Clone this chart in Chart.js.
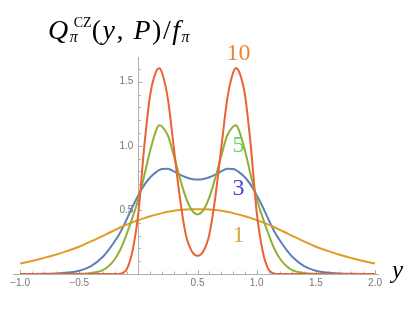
<!DOCTYPE html>
<html>
<head>
<meta charset="utf-8">
<script src="https://cdn.jsdelivr.net/npm/chart.js@4.4.1/dist/chart.umd.min.js"></script>
<style>
  body { margin: 0; background: #fff; }
  #wrap { position: relative; width: 415px; height: 312px; }
  .lbl { position: absolute; line-height: 0; white-space: nowrap; font-family: "Liberation Serif", serif; }
  #ytitle { left: 48px; top: 30px; font-size: 28px; letter-spacing: 1.5px; }
  .scripts { display: inline-block; position: relative; width: 22px; height: 0; letter-spacing: 0; }
  .scripts span { position: absolute; }
  .scripts .sup { left: 4px; bottom: 8.7px; line-height: 14px; font-size: 14px; }
  .scripts .sub { left: 0; bottom: -5.6px; line-height: 16px; font-size: 16px; }
  .sub2 { font-size: 16px; position: relative; top: 3px; letter-spacing: 0; }
  #xtitle { left: 392px; top: 270px; font-size: 25px; font-style: italic; }
  .curveLbl { font-size: 24px; transform: translateX(-50%); left: 238.5px; }
</style>
</head>
<body>
<div id="wrap">
  <canvas id="myChart"></canvas>
  <div id="ytitle" class="lbl"><i>Q</i><span class="scripts"><span class="sup">CZ</span><span class="sub"><i>π</i></span></span>(<i>y</i>, <i>P</i>)/<i>f</i><span class="sub2"><i>π</i></span></div>
  <div id="xtitle" class="lbl">y</div>
  <div class="lbl curveLbl" style="top:52px;color:#ef8430">10</div>
  <div class="lbl curveLbl" style="top:144px;color:#66d060">5</div>
  <div class="lbl curveLbl" style="top:187px;color:#4343d6">3</div>
  <div class="lbl curveLbl" style="top:234px;color:#d8a444">1</div>
</div>
<script>
/* ~~~~~~~~~~ DATA ~~~~~~~~~~*/

// y grid (momentum fraction), same for every curve
const yValues = [-1, -0.9, -0.8, -0.7, -0.6, -0.5, -0.4, -0.3, -0.25, -0.2, -0.15, -0.1, -0.05,
  0, 0.05, 0.1, 0.15, 0.175, 0.2, 0.25, 0.3, 0.35, 0.4, 0.45, 0.5,
  0.55, 0.6, 0.65, 0.7, 0.75, 0.8, 0.825, 0.85, 0.9, 0.95, 1,
  1.05, 1.1, 1.15, 1.2, 1.25, 1.3, 1.4, 1.5, 1.6, 1.7, 1.8, 1.9, 2];

// Q / f_pi for P = 1, 3, 5, 10
const qP1 = [0.082, 0.102, 0.125, 0.15, 0.18, 0.213, 0.255, 0.297, 0.32, 0.343, 0.365, 0.385, 0.403,
  0.42, 0.436, 0.45, 0.463, 0.469, 0.475, 0.485, 0.493, 0.499, 0.503, 0.505, 0.505,
  0.505, 0.503, 0.499, 0.493, 0.485, 0.475, 0.469, 0.463, 0.45, 0.436, 0.42,
  0.403, 0.385, 0.365, 0.343, 0.32, 0.297, 0.255, 0.213, 0.18, 0.15, 0.125, 0.102, 0.082];
const qP3 = [0, 0, 0.001, 0.004, 0.011, 0.026, 0.062, 0.135, 0.19, 0.255, 0.33, 0.425, 0.525,
  0.615, 0.695, 0.755, 0.795, 0.81, 0.82, 0.822, 0.80, 0.775, 0.755, 0.742, 0.737,
  0.742, 0.755, 0.775, 0.80, 0.822, 0.82, 0.81, 0.795, 0.755, 0.695, 0.615,
  0.525, 0.425, 0.33, 0.255, 0.19, 0.135, 0.062, 0.026, 0.011, 0.004, 0.001, 0, 0];
const qP5 = [0, 0, 0, 0, 0, 0.002, 0.008, 0.03, 0.062, 0.115, 0.195, 0.31, 0.44,
  0.585, 0.77, 0.965, 1.12, 1.16, 1.15, 1.08, 0.92, 0.75, 0.60, 0.50, 0.465,
  0.50, 0.60, 0.75, 0.92, 1.08, 1.15, 1.16, 1.12, 0.965, 0.77, 0.585,
  0.44, 0.31, 0.195, 0.115, 0.062, 0.03, 0.008, 0.002, 0, 0, 0, 0, 0];
const qP10 = [0, 0, 0, 0, 0, 0, 0, 0, 0, 0, 0.003, 0.035, 0.18,
  0.48, 1.0, 1.40, 1.58, 1.605, 1.57, 1.36, 0.98, 0.60, 0.31, 0.18, 0.143,
  0.18, 0.31, 0.60, 0.98, 1.36, 1.57, 1.605, 1.58, 1.40, 1.0, 0.48,
  0.18, 0.035, 0.003, 0, 0, 0, 0, 0, 0, 0, 0, 0, 0];

const xTickValues = [-1, -0.5, 0.5, 1, 1.5, 2];
const yTickValues = [0.5, 1, 1.5];

/* ~~~~~~~~~~ CHART ~~~~~~~~~~*/

const toPoints = (qs) => yValues.map((y, i) => ({ x: y, y: qs[i] }));

// mathematica style inward ticks
const tickMarks = {
  id: 'tickMarks',
  beforeDatasetsDraw(chart) {
    const { ctx, scales: { x, y } } = chart;
    const x0 = x.getPixelForValue(0);
    const y0 = y.getPixelForValue(0);
    ctx.save();
    ctx.strokeStyle = '#b0b0b0';
    ctx.lineWidth = 1;
    ctx.beginPath();
    for (let i = -10; i <= 20; i++) {
      if (i === 0) continue;
      const px = Math.round(x.getPixelForValue(i / 10)) + 0.5;
      const len = i % 5 === 0 ? 4 : 2.5;
      ctx.moveTo(px, y0);
      ctx.lineTo(px, y0 - len);
    }
    for (let i = 1; i <= 16; i++) {
      const py = Math.round(y.getPixelForValue(i / 10)) + 0.5;
      const len = i % 5 === 0 ? 4 : 2.5;
      ctx.moveTo(x0, py);
      ctx.lineTo(x0 + len, py);
    }
    ctx.stroke();
    ctx.restore();
  }
};

const lineSet = (label, qs, color) => ({
  label: label,
  data: toPoints(qs),
  borderColor: color,
  borderWidth: 2,
  pointRadius: 0,
  fill: false,
  cubicInterpolationMode: 'monotone'
});

let ctx = document.getElementById('myChart').getContext('2d');
let qChart = new Chart(ctx, {
  type: 'line',
  data: {
    // first dataset is drawn on top
    datasets: [
      lineSet('P = 10', qP10, '#eb6235'),
      lineSet('P = 5', qP5, '#8fb032'),
      lineSet('P = 1', qP1, '#e19c24'),
      lineSet('P = 3', qP3, '#5e81b5'),
    ],
  },
  plugins: [tickMarks],
  options: {
    responsive: true,
    maintainAspectRatio: false,
    animation: false,
    layout: { padding: { left: 13, right: 37, top: 57, bottom: 38 } },
    plugins: { legend: { display: false }, tooltip: { enabled: false } },
    scales: {
      x: {
        type: 'linear',
        position: { y: 0 },
        min: -1.06,
        max: 2.025,
        afterBuildTicks: (s) => { s.ticks = xTickValues.map((v) => ({ value: v })); },
        grid: { display: false, drawTicks: false },
        border: { color: '#b0b0b0', width: 1 },
        ticks: {
          padding: 3,
          maxRotation: 0,
          autoSkip: false,
          color: '#777',
          font: { family: 'Liberation Sans', size: 10 },
          callback: (v) => v.toFixed(1).replace('-', '\u2212'),
        },
      },
      y: {
        type: 'linear',
        position: { x: 0 },
        min: 0,
        max: 1.693,
        afterBuildTicks: (s) => { s.ticks = yTickValues.map((v) => ({ value: v })); },
        grid: { display: false, drawTicks: false },
        border: { color: '#b0b0b0', width: 1 },
        ticks: {
          autoSkip: false,
          color: '#777',
          font: { family: 'Liberation Sans', size: 10 },
          // en space keeps the label off the axis line
          callback: (v) => v.toFixed(1) + '\u2002',
        },
      },
    },
  },
});
</script>
</body>
</html>
